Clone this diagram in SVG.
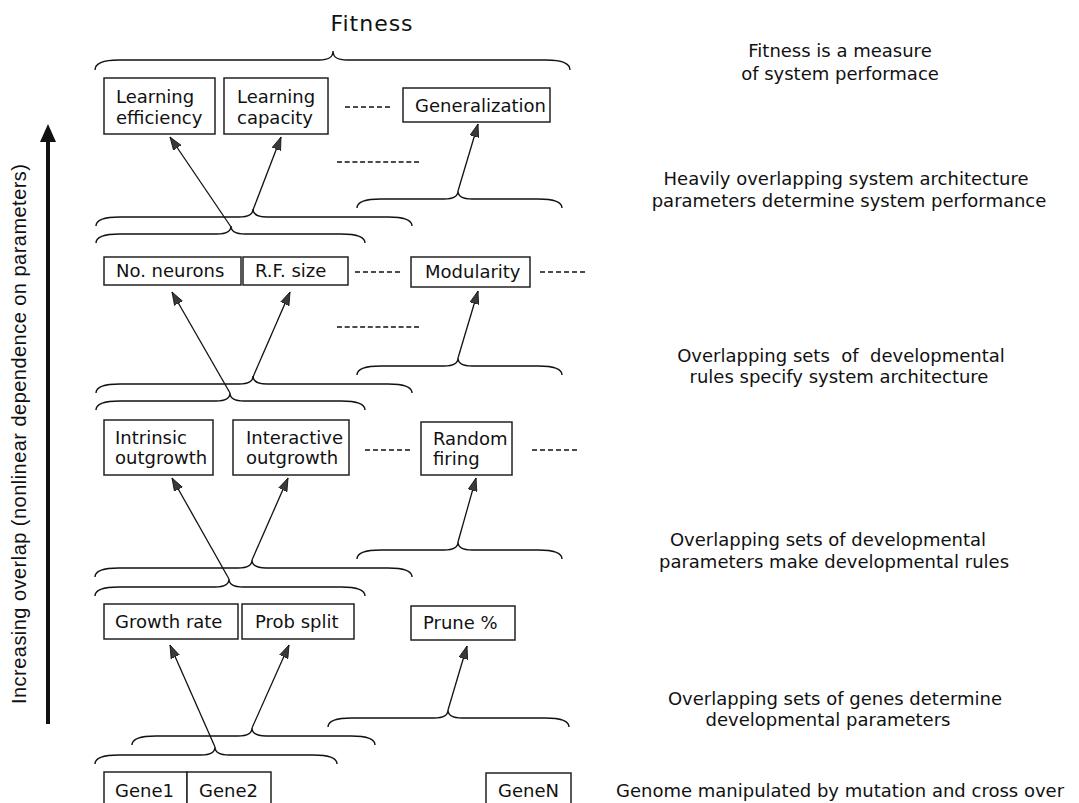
<svg xmlns="http://www.w3.org/2000/svg" width="1079" height="803" viewBox="0 0 1079 803">
<style>
  .lbl { font-family: "DejaVu Sans", Verdana, sans-serif; font-size: 18px; fill: #111; }
  .note { font-family: "DejaVu Sans", Verdana, sans-serif; font-size: 18px; fill: #111; text-anchor: middle; }
  .box { fill: #fff; stroke: #222; stroke-width: 1.5; }
  .brace { fill: none; stroke: #111; stroke-width: 1.4; }
  .arr { stroke: #111; stroke-width: 1.3; fill: none; marker-end: url(#ah); }
  .dash { stroke: #111; stroke-width: 1.3; stroke-dasharray: 5 3; }
</style>
<defs>
  <marker id="ah" markerUnits="userSpaceOnUse" markerWidth="14" markerHeight="10" viewBox="0 0 14 10" refX="13" refY="5" orient="auto">
    <path d="M0,0.5 L13,5 L0,9.5 Z" fill="#3a3a3a" stroke="#111" stroke-width="0.8"/>
  </marker>
</defs>
<rect width="1079" height="803" fill="#fff"/>

<text id="title" x="372" y="31" font-family="DejaVu Sans, Verdana, sans-serif" font-size="22" letter-spacing="1" text-anchor="middle" fill="#111">Fitness</text>

<g id="axis">
  <line x1="48" y1="724" x2="48" y2="138" stroke="#111" stroke-width="4"/>
  <polygon points="48,124 56,142 40,142" fill="#111"/>
  <text x="26" y="434" transform="rotate(-90 26 434)" text-anchor="middle" font-family="Liberation Sans, Arial, sans-serif" font-size="20" textLength="540" lengthAdjust="spacing" fill="#111">Increasing overlap (nonlinear dependence on parameters)</text>
</g>

<g id="braces">
  <path class="brace" d="M95,70 C95,63 103,60 119,60 L319,60 C328,60 333,58 333,51 C333,58 338,60 347,60 L546,60 C562,60 570,63 570,70"/>
  <path class="brace" d="M357,208 C357,202 365,199 381,199 L444,199 C453,199 458,197 458,191 C458,197 463,199 472,199 L538,199 C554,199 562,202 562,208"/>
  <path class="brace" d="M96,226 C96,220 104,217 120,217 L239,217 C248,217 253,215 253,209 C253,215 258,217 267,217 L388,217 C404,217 412,220 412,226"/>
  <path class="brace" d="M96,243 C96,237 104,234 120,234 L217,234 C226,234 231,232 231,226 C231,232 236,234 245,234 L341,234 C357,234 365,237 365,243"/>
  <path class="brace" d="M357,375 C357,369 365,366 381,366 L444,366 C453,366 458,364 458,358 C458,364 463,366 472,366 L538,366 C554,366 562,369 562,375"/>
  <path class="brace" d="M96,393 C96,387 104,384 120,384 L239,384 C248,384 253,382 253,376 C253,382 258,384 267,384 L388,384 C404,384 412,387 412,393"/>
  <path class="brace" d="M96,410 C96,404 104,401 120,401 L216,401 C225,401 230,399 230,393 C230,399 235,401 244,401 L341,401 C357,401 365,404 365,410"/>
  <path class="brace" d="M357,559 C357,553 365,550 381,550 L444,550 C453,550 458,548 458,542 C458,548 463,550 472,550 L538,550 C554,550 562,553 562,559"/>
  <path class="brace" d="M95,577 C95,571 103,568 119,568 L238,568 C247,568 252,566 252,560 C252,566 257,568 266,568 L388,568 C404,568 412,571 412,577"/>
  <path class="brace" d="M95,596 C95,590 103,587 119,587 L215,587 C224,587 229,585 229,579 C229,585 234,587 243,587 L341,587 C357,587 365,590 365,596"/>
  <path class="brace" d="M328,727 C328,721 336,718 352,718 L434,718 C443,718 448,716 448,710 C448,716 453,718 462,718 L545,718 C561,718 569,721 569,727"/>
  <path class="brace" d="M132,745 C132,739 140,736 156,736 L238,736 C247,736 252,734 252,728 C252,734 257,736 266,736 L351,736 C367,736 375,739 375,745"/>
  <path class="brace" d="M95,764 C95,758 103,755 119,755 L201,755 C210,755 215,753 215,747 C215,753 220,755 229,755 L313,755 C329,755 337,758 337,764"/>
</g>

<g id="connectors">
  <line class="arr" x1="231" y1="227" x2="170" y2="137"/>
  <line class="arr" x1="253" y1="210" x2="281" y2="137"/>
  <line class="arr" x1="458" y1="191" x2="478" y2="124"/>
  <line class="arr" x1="230" y1="393" x2="172" y2="292"/>
  <line class="arr" x1="253" y1="377" x2="290" y2="292"/>
  <line class="arr" x1="458" y1="358" x2="478" y2="291"/>
  <line class="arr" x1="229" y1="579" x2="172" y2="478"/>
  <line class="arr" x1="252" y1="560" x2="288" y2="478"/>
  <line class="arr" x1="458" y1="542" x2="476" y2="478"/>
  <line class="arr" x1="215" y1="747" x2="170" y2="645"/>
  <line class="arr" x1="252" y1="728" x2="289" y2="645"/>
  <line class="arr" x1="448" y1="710" x2="467" y2="646"/>
</g>

<g id="dashes">
  <line class="dash" x1="345" y1="107" x2="392" y2="107"/>
  <line class="dash" x1="337" y1="162" x2="420" y2="162" style="stroke-dasharray:5 2.7"/>
  <line class="dash" x1="355" y1="272" x2="402" y2="272"/>
  <line class="dash" x1="540" y1="272" x2="588" y2="272"/>
  <line class="dash" x1="337" y1="327" x2="420" y2="327" style="stroke-dasharray:5 2.7"/>
  <line class="dash" x1="365" y1="450" x2="412" y2="450"/>
  <line class="dash" x1="532" y1="450" x2="578" y2="450"/>
</g>

<g id="n-learning-efficiency"><rect class="box" x="104" y="78" width="111" height="56"/><text class="lbl" x="116" y="103">Learning</text><text class="lbl" x="116" y="124">efficiency</text></g>
<g id="n-learning-capacity"><rect class="box" x="224" y="78" width="104" height="56"/><text class="lbl" x="237" y="103">Learning</text><text class="lbl" x="237" y="124">capacity</text></g>
<g id="n-generalization"><rect class="box" x="403" y="88" width="147" height="34"/><text class="lbl" x="415" y="112">Generalization</text></g>

<g id="n-no-neurons"><rect class="box" x="104" y="257" width="137" height="28"/><text class="lbl" x="116" y="277">No. neurons</text></g>
<g id="n-rf-size"><rect class="box" x="243" y="257" width="105" height="28"/><text class="lbl" x="255" y="277">R.F. size</text></g>
<g id="n-modularity"><rect class="box" x="411" y="257" width="119" height="30"/><text class="lbl" x="425" y="278">Modularity</text></g>

<g id="n-intrinsic"><rect class="box" x="104" y="420" width="109" height="55"/><text class="lbl" x="115" y="444">Intrinsic</text><text class="lbl" x="115" y="464">outgrowth</text></g>
<g id="n-interactive"><rect class="box" x="233" y="420" width="116" height="55"/><text class="lbl" x="246" y="444">Interactive</text><text class="lbl" x="246" y="464">outgrowth</text></g>
<g id="n-random-firing"><rect class="box" x="421" y="422" width="91" height="53"/><text class="lbl" x="433" y="445">Random</text><text class="lbl" x="433" y="465">firing</text></g>

<g id="n-growth-rate"><rect class="box" x="104" y="604" width="134" height="35"/><text class="lbl" x="115" y="628">Growth rate</text></g>
<g id="n-prob-split"><rect class="box" x="242" y="604" width="112" height="35"/><text class="lbl" x="255" y="628">Prob split</text></g>
<g id="n-prune"><rect class="box" x="411" y="606" width="104" height="34"/><text class="lbl" x="423" y="629">Prune %</text></g>

<g id="n-gene1"><rect class="box" x="104" y="772" width="83" height="36"/><text class="lbl" x="115" y="797">Gene1</text></g>
<g id="n-gene2"><rect class="box" x="187" y="772" width="84" height="36"/><text class="lbl" x="199" y="797">Gene2</text></g>
<g id="n-genen"><rect class="box" x="486" y="773" width="85" height="36"/><text class="lbl" x="498" y="797">GeneN</text></g>

<g id="notes">
  <text class="note" x="840" y="57">Fitness is a measure</text>
  <text class="note" x="840" y="80">of system performace</text>
  <text class="note" x="846" y="185">Heavily overlapping system architecture</text>
  <text class="note" x="849" y="207">parameters determine system performance</text>
  <text class="note" x="841" y="362" xml:space="preserve">Overlapping sets  of  developmental</text>
  <text class="note" x="839" y="383">rules specify system architecture</text>
  <text class="note" x="828" y="546">Overlapping sets of developmental</text>
  <text class="note" x="834" y="568">parameters make developmental rules</text>
  <text class="note" x="835" y="705">Overlapping sets of genes determine</text>
  <text class="note" x="828" y="726">developmental parameters</text>
  <text class="lbl" x="616" y="797">Genome manipulated by mutation and cross over</text>
</g>
</svg>
